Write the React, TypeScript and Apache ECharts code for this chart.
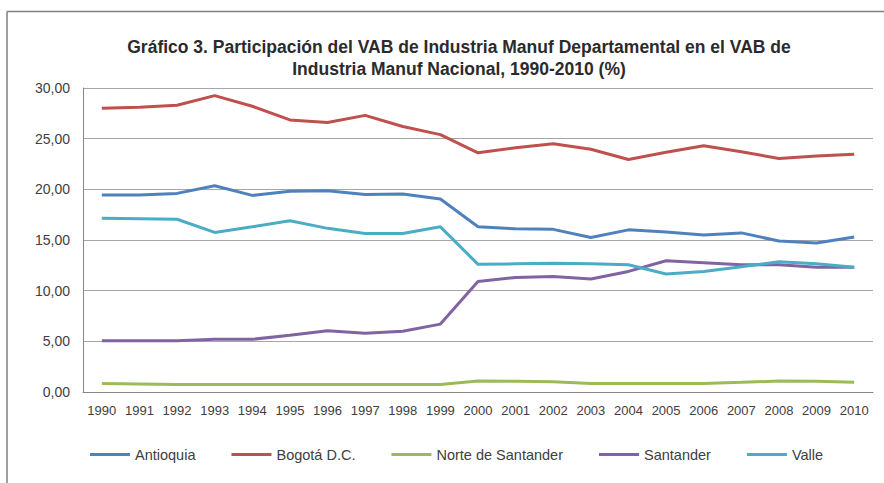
import React, { useEffect, useRef } from "react";
import * as echarts from "echarts";

const years = ["1990","1991","1992","1993","1994","1995","1996","1997","1998","1999","2000","2001","2002","2003","2004","2005","2006","2007","2008","2009","2010"];

const antioquia = [19.45, 19.45, 19.6, 20.35, 19.4, 19.8, 19.85, 19.5, 19.55, 19.05, 16.3, 16.1, 16.05, 15.25, 16.0, 15.8, 15.5, 15.7, 14.9, 14.7, 15.3];
const bogota = [28.0, 28.1, 28.3, 29.25, 28.2, 26.85, 26.6, 27.3, 26.2, 25.4, 23.6, 24.1, 24.5, 23.95, 22.95, 23.65, 24.3, 23.7, 23.05, 23.3, 23.45];
const norteSantander = [0.85, 0.8, 0.75, 0.75, 0.75, 0.75, 0.75, 0.75, 0.75, 0.75, 1.08, 1.05, 1.0, 0.85, 0.85, 0.85, 0.85, 0.95, 1.08, 1.05, 0.95];
const santander = [5.05, 5.05, 5.05, 5.2, 5.2, 5.6, 6.05, 5.8, 6.0, 6.7, 10.9, 11.3, 11.4, 11.15, 11.9, 12.95, 12.75, 12.55, 12.55, 12.3, 12.3];
const valle = [17.15, 17.1, 17.05, 15.75, 16.3, 16.9, 16.15, 15.65, 15.65, 16.3, 12.6, 12.65, 12.7, 12.65, 12.55, 11.65, 11.9, 12.35, 12.85, 12.65, 12.3];

const seriesNames = ["Antioquia", "Bogotá D.C.", "Norte de Santander", "Santander", "Valle"];
const seriesColors = ["#4F81BD", "#C0504D", "#9BBB59", "#8064A2", "#4BACC6"];
const seriesData = [antioquia, bogota, norteSantander, santander, valle];

const titleText = "Gráfico 3. Participación del VAB de Industria Manuf Departamental en el VAB de\nIndustria Manuf Nacional, 1990-2010 (%)";

const FONT = "'Liberation Sans', Arial, sans-serif";

export default function App() {
  const ref = useRef<HTMLDivElement>(null);
  useEffect(() => {
    if (!ref.current) return;
    const chart = echarts.init(ref.current, undefined, { renderer: "svg" });
    chart.setOption({
      animation: false,
      backgroundColor: "#ffffff",
      title: {
        text: titleText,
        left: 454,
        top: 31,
        textAlign: "center",
        textStyle: {
          fontFamily: FONT,
          fontSize: 17.5,
          fontWeight: "bold",
          color: "#2b2b2b",
          lineHeight: 22,
        },
      },
      graphic: [
        { type: "line", shape: { x1: 7, y1: 11.5, x2: 884, y2: 11.5 }, style: { stroke: "#7f7f7f", lineWidth: 1.5 } },
        { type: "line", shape: { x1: 7, y1: 11.5, x2: 7, y2: 483 }, style: { stroke: "#7f7f7f", lineWidth: 1.5 } },
      ],
      legend: {
        left: 85,
        top: 442,
        itemGap: 36,
        itemWidth: 40,
        itemHeight: 3,
        icon: "rect",
        textStyle: { fontFamily: FONT, fontSize: 14.5, color: "#404040" },
        data: seriesNames,
      },
      grid: { left: 83, right: 11, top: 88, bottom: 91 },
      xAxis: {
        type: "category",
        data: years,
        boundaryGap: true,
        axisLine: { lineStyle: { color: "#868686", width: 1 } },
        axisTick: { alignWithLabel: true, length: 4, lineStyle: { color: "#868686" } },
        axisLabel: { interval: 0, fontFamily: FONT, fontSize: 13, color: "#404040", margin: 12 },
      },
      yAxis: {
        type: "value",
        min: 0,
        max: 30,
        interval: 5,
        axisLine: { show: true, lineStyle: { color: "#868686", width: 1 } },
        axisTick: { show: false },
        splitLine: { lineStyle: { color: "#A6A6A6", width: 1 } },
        axisLabel: {
          fontFamily: FONT,
          fontSize: 14,
          color: "#404040",
          margin: 13,
          formatter: (v: number) => v.toFixed(2).replace(".", ","),
        },
      },
      series: seriesNames.map((name, i) => ({
        name,
        type: "line",
        data: seriesData[i],
        showSymbol: false,
        symbol: "none",
        lineStyle: { color: seriesColors[i], width: 3 },
        itemStyle: { color: seriesColors[i] },
      })),
    });
    return () => chart.dispose();
  }, []);
  return <div ref={ref} style={{ position: "fixed", left: 0, top: 0, width: 884, height: 483 }} />;
}
